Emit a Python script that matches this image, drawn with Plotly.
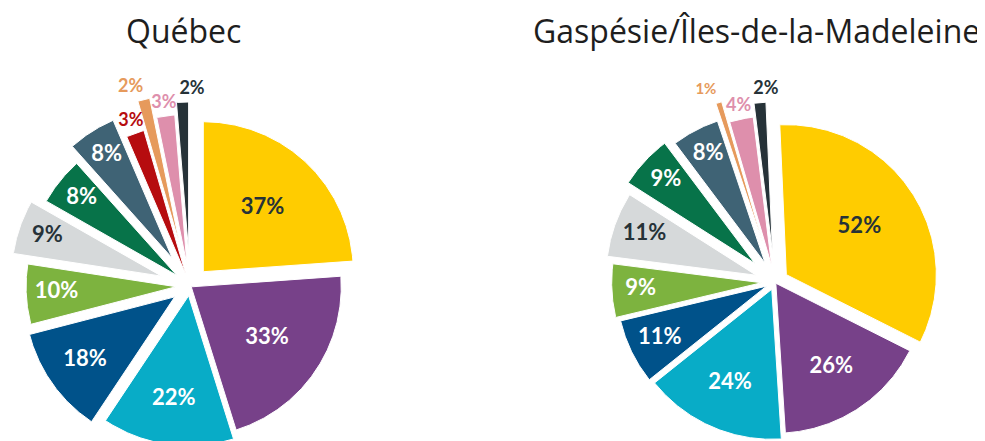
import numpy as np
import plotly.graph_objects as go

# ---- data ----
categories = ["Catégorie 1", "Catégorie 2", "Catégorie 3", "Catégorie 4", "Catégorie 5", "Catégorie 6",
              "Catégorie 7", "Catégorie 8", "Catégorie 9", "Catégorie 10", "Catégorie 11", "Catégorie 12"]
quebec_values = [37, 33, 22, 18, 10, 9, 8, 8, 3, 2, 3, 2]
gaspesie_values = [52, 26, 24, 11, 9, 11, 9, 8, 0, 1, 4, 2]
titles = ["Québec", "Gaspésie/Îles-de-la-Madeleine"]

# ---- style ----
colors = ["#FFCC00", "#774189", "#08ACC7", "#00528A", "#7DB33F", "#D6D9DA",
          "#077349", "#3F6375", "#B60C0F", "#E69A5C", "#DE8FAC", "#263238"]
inside_text_colors = ["#263238", "white", "white", "white", "white", "#263238",
                      "white", "white", "white", "white", "white", "white"]
# explode distance of each slice, as a fraction of the radius
quebec_pull = [0.13, 0.01, 0.066, 0.125, 0.093, 0.2, 0.114, 0.22, 0.081, 0.28, 0.145, 0.227]
gaspesie_pull = [0.09, 0.01, 0.053, 0.063, 0.089, 0.133, 0.184, 0.141, 0.0, 0.253, 0.109, 0.2]
# start angle of each pie (degrees, clockwise from 12 o'clock)
rotations = [0.0, -2.5]
# horizontal nudge (px) for the small outside labels
quebec_nudge = [0, 0, 0, 0, 0, 0, 0, 0, 0, -10, 0, 10]
gaspesie_nudge = [0, 0, 0, 0, 0, 0, 0, 0, 0, -9, 0, 7]
outside_threshold = 5

W, H = 985, 441
PAGE_OFFSET = 8  # default body margin of the html page
R = 150
pie_centers = [(190, 286), (775, 282)]
title_pos = [(183, 30), (756, 30)]

LABEL_FONT = "Lato"
TITLE_FONT = "Open Sans"


def direction(theta_deg):
    t = np.radians(theta_deg)
    return np.sin(t), -np.cos(t)


fig = go.Figure()

for values, pulls, nudges, rot, (cx, cy) in [
    (quebec_values, quebec_pull, quebec_nudge, rotations[0], pie_centers[0]),
    (gaspesie_values, gaspesie_pull, gaspesie_nudge, rotations[1], pie_centers[1]),
]:
    total = float(sum(values))
    start = rot
    lab_x, lab_y, lab_t, lab_c, lab_s = [], [], [], [], []
    for i, v in enumerate(values):
        if v <= 0:
            continue
        span = 360.0 * v / total
        mid = start + span / 2
        ux, uy = direction(mid)
        d = pulls[i] * R
        tx, ty = cx + d * ux, cy + d * uy
        th = np.linspace(start, start + span, max(8, int(span * 3)))
        ax, ay = direction(th)
        xs = np.concatenate([[tx], tx + R * ax, [tx]])
        ys = np.concatenate([[ty], ty + R * ay, [ty]])
        fig.add_trace(go.Scatter(
            x=xs, y=ys, mode="lines", fill="toself", fillcolor=colors[i],
            line=dict(color="white", width=1),
            hoverinfo="text", text=f"{categories[i]}: {v}%",
            showlegend=False,
        ))
        if v >= outside_threshold:
            k = min(0.85, max(0.58, 0.88 - 0.0035 * span))
            lab_x.append(tx + k * R * ux)
            lab_y.append(ty + k * R * uy)
            lab_c.append(inside_text_colors[i])
            lab_s.append(22)
        else:
            lab_x.append(tx + (R + 13) * ux + nudges[i])
            lab_y.append(ty + (R + 13) * uy)
            lab_c.append(colors[i])
            lab_s.append(18 if v >= 2 else 15)
        lab_t.append(f"<b>{v}%</b>")
        start += span
    fig.add_trace(go.Scatter(
        x=lab_x, y=lab_y, mode="text", text=lab_t, textposition="middle center",
        textfont=dict(family=LABEL_FONT, size=lab_s, color=lab_c),
        hoverinfo="skip", showlegend=False,
    ))

for t, (tx, ty) in zip(titles, title_pos):
    fig.add_annotation(text=t, x=tx, y=ty, xref="x", yref="y",
                       showarrow=False, xanchor="center", yanchor="middle",
                       font=dict(family=TITLE_FONT, size=32, color="#1e1e1e"))

fig.update_xaxes(range=[PAGE_OFFSET, W + PAGE_OFFSET], visible=False, fixedrange=True)
fig.update_yaxes(range=[H + PAGE_OFFSET, PAGE_OFFSET], visible=False, fixedrange=True)
fig.update_layout(width=W, height=H, margin=dict(l=0, r=0, t=0, b=0),
                  paper_bgcolor="white", plot_bgcolor="white")
fig.write_html("out.html")
